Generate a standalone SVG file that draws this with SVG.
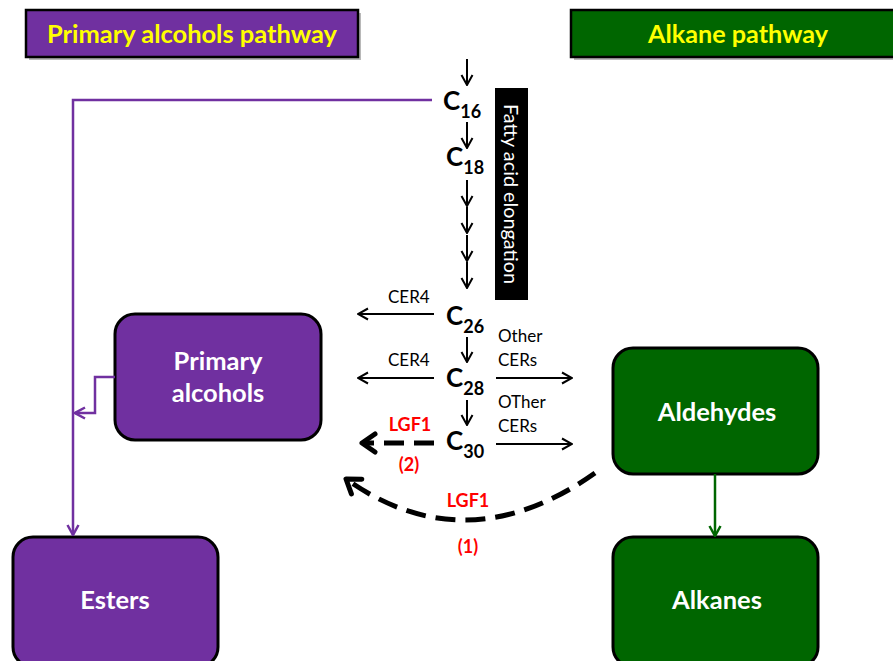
<svg xmlns="http://www.w3.org/2000/svg" width="893" height="661" viewBox="0 0 893 661">
<defs>
<style>
.hdr{stroke:#000;stroke-width:2.5}
.shadow{fill:#888;opacity:0.6}
.hdrtxt{font-family:Lato,"Open Sans",sans-serif;font-weight:bold;font-size:25px;fill:#FFFF00;text-anchor:middle}
.node{stroke:#000;stroke-width:3}
.purple{fill:#7030A0}
.green{fill:#006600}
.ntxt{font-family:Lato,"Open Sans",sans-serif;font-weight:bold;font-size:25.5px;fill:#fff;text-anchor:middle}
.c{font-family:Lato,"Open Sans",sans-serif;font-weight:bold;font-size:26px;fill:#000}
.sub{font-size:18px}
.lbl{font-family:Lato,"Open Sans",sans-serif;font-size:17px;fill:#000}
.red{font-family:Lato,"Open Sans",sans-serif;font-weight:bold;font-size:18px;fill:#FF0000;text-anchor:middle}
.blk{stroke:#000;stroke-width:2;fill:none}
.dash{stroke:#000;stroke-width:5;fill:none;stroke-dasharray:20 10}
</style>
<marker id="ah" markerUnits="userSpaceOnUse" viewBox="0 0 14 14" refX="13" refY="7" markerWidth="14" markerHeight="14" orient="auto">
<polyline points="3,1.5 13,7 3,12.5" fill="none" stroke="#000" stroke-width="2"/>
</marker>
<marker id="ahBig" markerUnits="userSpaceOnUse" viewBox="0 0 24 24" refX="21" refY="12" markerWidth="24" markerHeight="24" orient="auto">
<polyline points="8,3 21,12 8,21" fill="none" stroke="#000" stroke-width="5" stroke-linecap="round" stroke-linejoin="round"/>
</marker>
<marker id="ahP" markerUnits="userSpaceOnUse" viewBox="0 0 14 14" refX="13" refY="7" markerWidth="14" markerHeight="14" orient="auto">
<polyline points="3,1.5 13,7 3,12.5" fill="none" stroke="#7030A0" stroke-width="2.5"/>
</marker>
<marker id="ahG" markerUnits="userSpaceOnUse" viewBox="0 0 14 14" refX="13" refY="7" markerWidth="14" markerHeight="14" orient="auto">
<polyline points="3,1.5 13,7 3,12.5" fill="none" stroke="#006600" stroke-width="2.5"/>
</marker>
</defs>
<rect width="893" height="661" fill="#fff"/>

<g id="hdr-primary">
<rect class="shadow" x="29" y="13" width="332" height="47"/>
<rect class="hdr purple" x="26" y="10" width="332" height="47"/>
<text class="hdrtxt" x="192" y="43" textLength="290" lengthAdjust="spacingAndGlyphs">Primary alcohols pathway</text>
</g>
<g id="hdr-alkane">
<rect class="shadow" x="574" y="13" width="330" height="47"/>
<rect class="hdr green" x="571" y="10" width="330" height="47"/>
<text class="hdrtxt" x="738" y="43" textLength="180" lengthAdjust="spacingAndGlyphs">Alkane pathway</text>
</g>

<g id="elongation-bar">
<rect x="495" y="88" width="33" height="212" fill="#000"/>
<text x="511" y="194" transform="rotate(90 511 194)" font-family="Lato,'Open Sans',sans-serif" font-size="19" fill="#fff" text-anchor="middle" dominant-baseline="central" textLength="180" lengthAdjust="spacingAndGlyphs">Fatty acid elongation</text>
</g>

<g id="c16"><text class="c" x="443" y="110">C<tspan class="sub" dy="8">16</tspan></text></g>
<g id="c18"><text class="c" x="446" y="166">C<tspan class="sub" dy="8">18</tspan></text></g>
<g id="c26"><text class="c" x="446" y="325">C<tspan class="sub" dy="8">26</tspan></text></g>
<g id="c28"><text class="c" x="446" y="387">C<tspan class="sub" dy="8">28</tspan></text></g>
<g id="c30"><text class="c" x="446" y="450">C<tspan class="sub" dy="8">30</tspan></text></g>

<g id="primary-alcohols">
<rect class="node purple" x="115" y="314" width="206" height="126" rx="20"/>
<text class="ntxt" x="218" y="370">Primary</text>
<text class="ntxt" x="218" y="402">alcohols</text>
</g>
<g id="esters">
<rect class="node purple" x="13" y="537" width="205" height="130" rx="20"/>
<text class="ntxt" x="115" y="609">Esters</text>
</g>
<g id="aldehydes">
<rect class="node green" x="613" y="348" width="205" height="126" rx="20"/>
<text class="ntxt" x="717" y="421">Aldehydes</text>
</g>
<g id="alkanes">
<rect class="node green" x="613" y="537" width="205" height="130" rx="20"/>
<text class="ntxt" x="717" y="609">Alkanes</text>
</g>

<g id="connectors">
<line class="blk" x1="467" y1="59" x2="467" y2="85" marker-end="url(#ah)"/>
<line class="blk" x1="467" y1="122" x2="467" y2="148" marker-end="url(#ah)"/>
<line class="blk" x1="467" y1="180" x2="467" y2="206" marker-end="url(#ah)"/>
<line class="blk" x1="467" y1="207" x2="467" y2="233" marker-end="url(#ah)"/>
<line class="blk" x1="467" y1="235" x2="467" y2="261" marker-end="url(#ah)"/>
<line class="blk" x1="467" y1="262" x2="467" y2="288" marker-end="url(#ah)"/>
<line class="blk" x1="467" y1="337" x2="467" y2="362" marker-end="url(#ah)"/>
<line class="blk" x1="467" y1="400" x2="467" y2="425" marker-end="url(#ah)"/>
<line class="blk" x1="434" y1="314" x2="358" y2="314" marker-end="url(#ah)"/>
<line class="blk" x1="434" y1="378" x2="358" y2="378" marker-end="url(#ah)"/>
<line class="blk" x1="496" y1="378" x2="572" y2="378" marker-end="url(#ah)"/>
<line class="blk" x1="496" y1="444" x2="572" y2="444" marker-end="url(#ah)"/>
<text class="lbl" x="388" y="303">CER4</text>
<text class="lbl" x="388" y="366">CER4</text>
<text class="lbl" x="498" y="342">Other</text>
<text class="lbl" x="498" y="366">CERs</text>
<text class="lbl" x="498" y="408">OTher</text>
<text class="lbl" x="498" y="432">CERs</text>
<line class="dash" x1="434" y1="443" x2="362" y2="443" stroke-dasharray="22 12" marker-end="url(#ahBig)"/>
<text class="red" x="410" y="431">LGF1</text>
<text class="red" x="409" y="471">(2)</text>
<path class="dash" d="M595,473 Q466,564 346,479" marker-end="url(#ahBig)"/>
<text class="red" x="468" y="507">LGF1</text>
<text class="red" x="468" y="553">(1)</text>
<polyline points="432,100 73,100 73,535" fill="none" stroke="#7030A0" stroke-width="2.5" marker-end="url(#ahP)"/>
<polyline points="115,377 95,377 95,413 75,413" fill="none" stroke="#7030A0" stroke-width="2.5" marker-end="url(#ahP)"/>
<line x1="715" y1="474" x2="715" y2="536" stroke="#006600" stroke-width="2.5" marker-end="url(#ahG)"/>
</g>
</svg>
